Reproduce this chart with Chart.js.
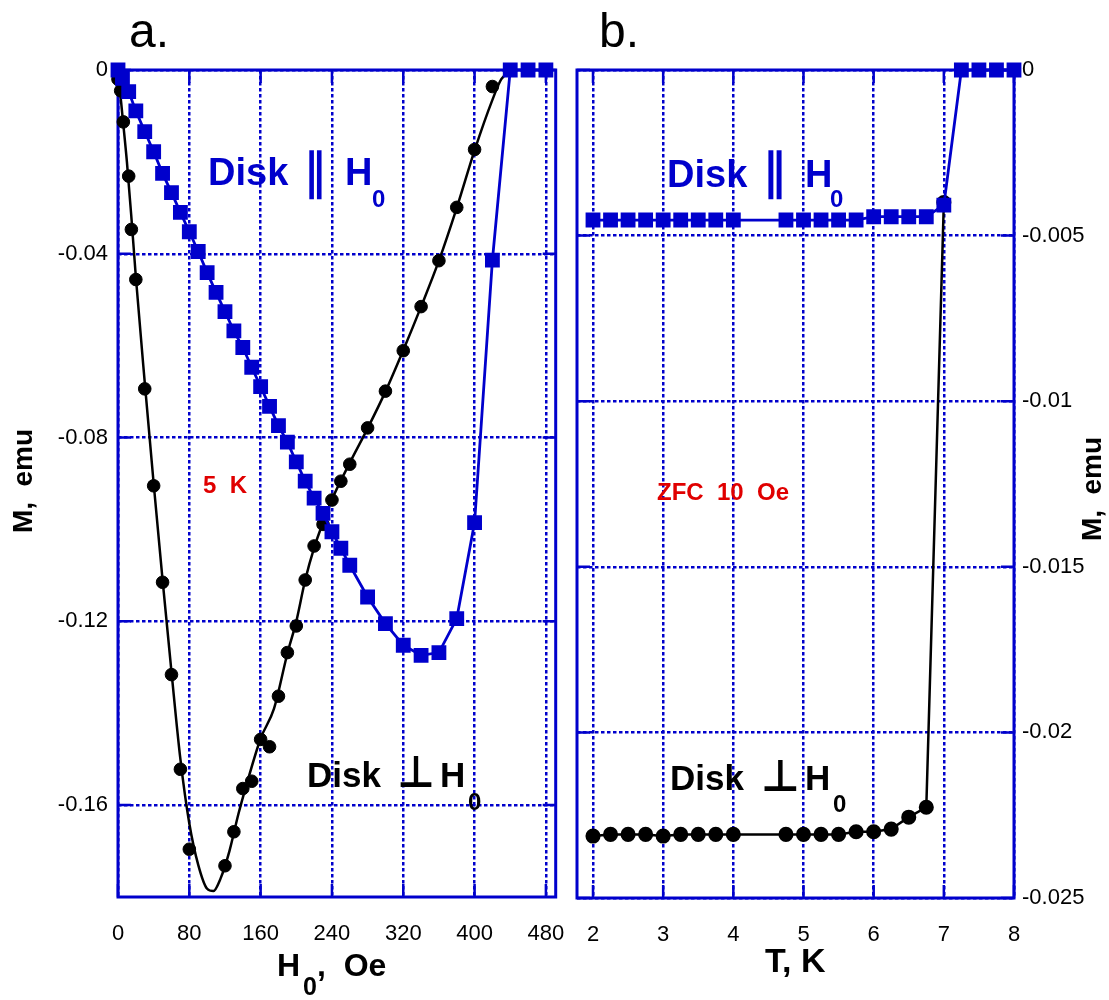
<!DOCTYPE html>
<html>
<head>
<meta charset="utf-8">
<script src="https://cdn.jsdelivr.net/npm/chart.js@4.4.1/dist/chart.umd.min.js"></script>
<style>
  body { margin: 0; background: #fff; }
  #wrap { position: relative; width: 1109px; height: 1000px; }
  canvas { position: absolute; top: 0; }
  #chartA { left: 0; }
  #chartB { left: 560px; }
</style>
</head>
<body>
<div id="wrap">
  <canvas id="chartA" width="567" height="1000"></canvas>
  <canvas id="chartB" width="549" height="1000"></canvas>
</div>
<script>
// ---- panel a: M vs H0 at 5 K ----
const fieldPar = [0,5,12,20,30,40,50,60,70,80,90,100,110,120,130,140,150,160,170,180,190,200,210,220,230,240,250,260,280,300,320,340,360,380,400,420,440,460,480];
const momentPar = [0,-0.0018,-0.0047,-0.0089,-0.0134,-0.0178,-0.0225,-0.0267,-0.031,-0.0352,-0.0395,-0.0441,-0.0484,-0.0526,-0.0568,-0.0604,-0.0647,-0.0689,-0.0732,-0.0774,-0.081,-0.0853,-0.0895,-0.0932,-0.0965,-0.1005,-0.1041,-0.1078,-0.1147,-0.1205,-0.1252,-0.1274,-0.1268,-0.1194,-0.0985,-0.0414,0,0,0];

const fieldPerp = [0,3,6,12,15,20,30,40,50,60,70,80,120,130,140,150,160,170,180,190,200,210,220,230,240,250,260,280,300,320,340,360,380,400,420];
const momentPerp = [-0.002,-0.0045,-0.0113,-0.0231,-0.0347,-0.0456,-0.0694,-0.0905,-0.1115,-0.1316,-0.1522,-0.1696,-0.1732,-0.1658,-0.1564,-0.1548,-0.1457,-0.1473,-0.1363,-0.1268,-0.121,-0.111,-0.1036,-0.0989,-0.0936,-0.0895,-0.0858,-0.0779,-0.0699,-0.0611,-0.0515,-0.0415,-0.0299,-0.0173,-0.0036];

// smooth guide line through the perpendicular data
const fieldFit = [0,2,5,10,15,20,30,40,50,60,70,80,90,100,107,115,125,135,145,160,175,190,200,210,220,230,240,260,280,300,320,340,360,380,400,420,430,442];
const momentFit = [0,-0.004,-0.010,-0.020,-0.032,-0.045,-0.068,-0.090,-0.111,-0.131,-0.150,-0.164,-0.173,-0.1782,-0.1787,-0.176,-0.170,-0.162,-0.155,-0.1455,-0.139,-0.127,-0.120,-0.111,-0.104,-0.0985,-0.0935,-0.0855,-0.078,-0.070,-0.061,-0.0515,-0.0415,-0.030,-0.0175,-0.0065,-0.002,0];

const xTicksA = [0,80,160,240,320,400,480];
const yTicksA = [0,-0.04,-0.08,-0.12,-0.16];
const yLabelsA = ['0','-0.04','-0.08','-0.12','-0.16'];

// ---- panel b: ZFC 10 Oe, M vs T ----
const tempPar = [2,2.25,2.5,2.75,3,3.25,3.5,3.75,4,4.75,5,5.25,5.5,5.75,6,6.25,6.5,6.75,7,7.25,7.5,7.75,8];
const momentTPar = [-0.00453,-0.00453,-0.00453,-0.00453,-0.00453,-0.00453,-0.00453,-0.00453,-0.00453,-0.00453,-0.00453,-0.00453,-0.00453,-0.00453,-0.00443,-0.00443,-0.00443,-0.00443,-0.00408,0,0,0,0];

const tempPerp = [2,2.25,2.5,2.75,3,3.25,3.5,3.75,4,4.75,5,5.25,5.5,5.75,6,6.25,6.5,6.75,7];
const momentTPerp = [-0.02313,-0.02308,-0.02308,-0.02308,-0.02313,-0.02308,-0.02308,-0.02308,-0.02308,-0.02308,-0.02308,-0.02308,-0.02308,-0.0230,-0.0230,-0.02292,-0.02256,-0.02226,-0.0040];

const xTicksB = [2,3,4,5,6,7,8];
const yTicksB = [0,-0.005,-0.01,-0.015,-0.02,-0.025];
const yLabelsB = ['0','-0.005','-0.01','-0.015','-0.02','-0.025'];

const BLUE = '#0000cc';
const RED = '#e00000';
const FONT = "'Liberation Sans', Arial, Helvetica, sans-serif";

function pts(xs, ys) {
  return xs.map((x, i) => ({x: x, y: ys[i]}));
}

function txt(ctx, s, x, y, font, color, align) {
  ctx.font = font;
  ctx.fillStyle = color;
  ctx.textAlign = align || 'left';
  ctx.textBaseline = 'alphabetic';
  ctx.fillText(s, x, y);
}

// draw a symbol so that its ink fills the given box
function glyphBox(ctx, ch, font, color, x0, y0, x1, y1) {
  ctx.save();
  ctx.font = font;
  ctx.fillStyle = color;
  ctx.textAlign = 'left';
  ctx.textBaseline = 'alphabetic';
  const m = ctx.measureText(ch);
  const w = m.actualBoundingBoxLeft + m.actualBoundingBoxRight;
  const h = m.actualBoundingBoxAscent + m.actualBoundingBoxDescent;
  ctx.translate(x0, y0);
  ctx.scale((x1 - x0) / w, (y1 - y0) / h);
  ctx.fillText(ch, m.actualBoundingBoxLeft, m.actualBoundingBoxAscent);
  ctx.restore();
}

function vtxt(ctx, s, cx, cy, font) {
  ctx.save();
  ctx.translate(cx, cy);
  ctx.rotate(-Math.PI / 2);
  ctx.font = font;
  ctx.fillStyle = '#000';
  ctx.textAlign = 'center';
  ctx.textBaseline = 'middle';
  ctx.fillText(s, 0, 0);
  ctx.restore();
}

// frame and short inner tick marks
const framePlugin = {
  id: 'frame',
  beforeDatasetsDraw(chart) {
    const ctx = chart.ctx;
    const a = chart.chartArea;
    const sx = chart.scales.x, sy = chart.scales.y;
    ctx.save();
    ctx.strokeStyle = BLUE;
    ctx.lineWidth = 2.5;
    ctx.beginPath();
    sx.ticks.forEach(t => {
      const px = sx.getPixelForValue(t.value);
      ctx.moveTo(px, a.bottom); ctx.lineTo(px, a.bottom - 13);
      ctx.moveTo(px, a.top); ctx.lineTo(px, a.top + 13);
    });
    sy.ticks.forEach(t => {
      const py = sy.getPixelForValue(t.value);
      ctx.moveTo(a.left, py); ctx.lineTo(a.left + 13, py);
      ctx.moveTo(a.right, py); ctx.lineTo(a.right - 13, py);
    });
    ctx.stroke();
    ctx.lineWidth = 3;
    ctx.strokeRect(a.left, a.top, a.right - a.left, a.bottom - a.top);
    ctx.restore();
  }
};

const labelsA = {
  id: 'labelsA',
  afterDraw(chart) {
    const ctx = chart.ctx;
    txt(ctx, 'a.', 129, 47, '48px ' + FONT, '#000');
    // Disk || H0
    txt(ctx, 'Disk', 208, 185, 'bold 38px ' + FONT, BLUE);
    glyphBox(ctx, '\u2225', 'bold 40px DejaVu Sans', BLUE, 309, 150, 322, 200);
    txt(ctx, 'H', 345, 185, 'bold 38px ' + FONT, BLUE);
    txt(ctx, '0', 372, 207, 'bold 24px ' + FONT, BLUE);
    txt(ctx, '5  K', 203, 493, 'bold 24px ' + FONT, RED);
    // Disk perp H0
    txt(ctx, 'Disk', 307, 787, 'bold 35px ' + FONT, '#000');
    glyphBox(ctx, '\u22A5', 'bold 40px DejaVu Sans', '#000', 400, 755, 432, 787);
    txt(ctx, 'H', 440, 787, 'bold 35px ' + FONT, '#000');
    txt(ctx, '0', 468, 810, 'bold 24px ' + FONT, '#000');
    // axis titles
    txt(ctx, 'H', 277, 976, 'bold 32px ' + FONT, '#000');
    txt(ctx, '0', 303, 995, 'bold 25px ' + FONT, '#000');
    txt(ctx, ',  Oe', 317, 976, 'bold 32px ' + FONT, '#000');
    vtxt(ctx, 'M,  emu', 24, 481, 'bold 28px ' + FONT);
  }
};

const OFF = 560;
const labelsB = {
  id: 'labelsB',
  afterDraw(chart) {
    const ctx = chart.ctx;
    txt(ctx, 'b.', 599 - OFF, 47, '48px ' + FONT, '#000');
    txt(ctx, 'Disk', 667 - OFF, 187, 'bold 38px ' + FONT, BLUE);
    glyphBox(ctx, '\u2225', 'bold 40px DejaVu Sans', BLUE, 768 - OFF, 150, 782 - OFF, 200);
    txt(ctx, 'H', 805 - OFF, 187, 'bold 38px ' + FONT, BLUE);
    txt(ctx, '0', 830 - OFF, 207, 'bold 24px ' + FONT, BLUE);
    txt(ctx, 'ZFC  10  Oe', 657 - OFF, 500, 'bold 24px ' + FONT, RED);
    txt(ctx, 'Disk', 670 - OFF, 790, 'bold 35px ' + FONT, '#000');
    glyphBox(ctx, '\u22A5', 'bold 40px DejaVu Sans', '#000', 764 - OFF, 759, 797 - OFF, 791);
    txt(ctx, 'H', 805 - OFF, 790, 'bold 35px ' + FONT, '#000');
    txt(ctx, '0', 833 - OFF, 812, 'bold 24px ' + FONT, '#000');
    txt(ctx, 'T, K', 765 - OFF, 972, 'bold 34px ' + FONT, '#000');
    vtxt(ctx, 'M,  emu', 1093 - OFF, 489, 'bold 28px ' + FONT);
  }
};

function gridScale(extra) {
  return Object.assign({
    type: 'linear',
    grid: { color: BLUE, lineWidth: 2.5, drawTicks: false },
    border: { display: false, dash: [3.5, 2.5] },
  }, extra);
}

const tickFont = { size: 22, family: FONT };

new Chart(document.getElementById('chartA'), {
  type: 'scatter',
  data: {
    datasets: [
      { data: pts(fieldPar, momentPar), showLine: true, borderColor: BLUE, backgroundColor: BLUE,
        borderWidth: 2.8, pointStyle: 'rect', pointRadius: 8.5, pointHoverRadius: 8.5, order: 0, clip: false },
      { data: pts(fieldPerp, momentPerp), showLine: false, borderColor: '#000', backgroundColor: '#000',
        pointStyle: 'circle', pointRadius: 6.3, pointHoverRadius: 6.3, order: 1, clip: false },
      { data: pts(fieldFit, momentFit), showLine: true, borderColor: '#000', borderWidth: 2.5,
        pointRadius: 0, cubicInterpolationMode: 'monotone', order: 2, clip: false }
    ]
  },
  options: {
    responsive: false,
    animation: false,
    events: [],
    layout: { padding: { left: 0, top: 70, right: 5, bottom: 0 } },
    plugins: { legend: { display: false }, tooltip: { enabled: false } },
    scales: {
      x: gridScale({
        min: 0, max: 491,
        afterBuildTicks: s => { s.ticks = xTicksA.map(v => ({ value: v })); },
        afterFit: s => { s.height = 103; s.paddingLeft = 0; s.paddingRight = 0; },
        ticks: { color: '#000', font: tickFont, padding: 24, maxRotation: 0, autoSkip: false,
                 callback: (v, i) => String(xTicksA[i]) }
      }),
      y: gridScale({
        min: -0.18, max: 0,
        afterBuildTicks: s => { s.ticks = yTicksA.map(v => ({ value: v })); },
        afterFit: s => { s.width = 118; s.paddingTop = 0; s.paddingBottom = 0; },
        ticks: { color: '#000', font: tickFont, padding: 10, autoSkip: false,
                 callback: (v, i) => yLabelsA[i] }
      })
    }
  },
  plugins: [framePlugin, labelsA]
});

new Chart(document.getElementById('chartB'), {
  type: 'scatter',
  data: {
    datasets: [
      { data: pts(tempPar, momentTPar), showLine: true, borderColor: BLUE, backgroundColor: BLUE,
        borderWidth: 2.8, pointStyle: 'rect', pointRadius: 8.5, pointHoverRadius: 8.5, order: 0, clip: false },
      { data: pts(tempPerp, momentTPerp), showLine: true, borderColor: '#000', backgroundColor: '#000',
        borderWidth: 2.5, pointStyle: 'circle', pointRadius: 6.3, pointHoverRadius: 6.3, order: 1, clip: false }
    ]
  },
  options: {
    responsive: false,
    animation: false,
    events: [],
    layout: { padding: { left: 17, top: 70, right: 0, bottom: 0 } },
    plugins: { legend: { display: false }, tooltip: { enabled: false } },
    scales: {
      x: gridScale({
        min: 1.772, max: 8,
        afterBuildTicks: s => { s.ticks = xTicksB.map(v => ({ value: v })); },
        afterFit: s => { s.height = 102; s.paddingLeft = 0; s.paddingRight = 0; },
        ticks: { color: '#000', font: tickFont, padding: 24, maxRotation: 0, autoSkip: false,
                 callback: (v, i) => String(xTicksB[i]) }
      }),
      y: gridScale({
        position: 'right',
        min: -0.025, max: 0,
        afterBuildTicks: s => { s.ticks = yTicksB.map(v => ({ value: v })); },
        afterFit: s => { s.width = 95; s.paddingTop = 0; s.paddingBottom = 0; },
        ticks: { color: '#000', font: tickFont, padding: 8, autoSkip: false,
                 callback: (v, i) => yLabelsB[i] }
      })
    }
  },
  plugins: [framePlugin, labelsB]
});
</script>
</body>
</html>
